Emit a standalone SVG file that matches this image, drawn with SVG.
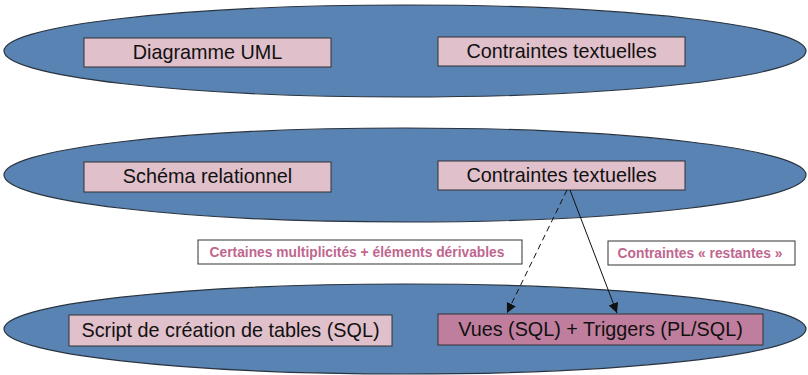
<svg xmlns="http://www.w3.org/2000/svg" width="808" height="375" viewBox="0 0 808 375">
<defs>
<style>
.ell{fill:#5983b2;stroke:#2a3440;stroke-width:1.2}
.box{fill:#e0c0cb;stroke:#333;stroke-width:1}
.dark{fill:#c07e9e;stroke:#333;stroke-width:1}
.t{font-family:"Liberation Sans",Arial,sans-serif;font-size:19.8px;fill:#111;text-anchor:middle}
.lb{fill:#fff;stroke:#333;stroke-width:1}
.lt{font-family:"Liberation Sans",Arial,sans-serif;font-size:13.8px;font-weight:bold;fill:#c0668f;text-anchor:middle}
.c{stroke:#111;stroke-width:1;fill:none}
</style>
<marker id="ah" viewBox="0 0 10 10" refX="10" refY="5" markerWidth="10" markerHeight="10" markerUnits="userSpaceOnUse" orient="auto">
<path d="M0,0 L10,5 L0,10 z" fill="#111"/>
</marker>
</defs>
<g id="layer1"><ellipse class="ell" cx="405" cy="51" rx="401" ry="46"/></g>
<g id="layer2"><ellipse class="ell" cx="405" cy="175" rx="401" ry="47"/></g>
<g id="layer3"><ellipse class="ell" cx="405" cy="329" rx="401" ry="45"/></g>
<g id="n1"><rect class="box" x="84" y="38" width="247" height="29"/><text class="t" x="207.5" y="59">Diagramme UML</text></g>
<g id="n2"><rect class="box" x="438" y="37" width="247" height="29"/><text class="t" x="561.5" y="58">Contraintes textuelles</text></g>
<g id="n3"><rect class="box" x="84" y="162" width="247" height="30"/><text class="t" x="207.5" y="183">Schéma relationnel</text></g>
<g id="n4"><rect class="box" x="438" y="161" width="247" height="29"/><text class="t" x="561.5" y="182">Contraintes textuelles</text></g>
<g id="n5"><rect class="box" x="69" y="315" width="323" height="31"/><text class="t" x="230.5" y="337">Script de création de tables (SQL)</text></g>
<g id="n6"><rect class="dark" x="438" y="314" width="325" height="31"/><text class="t" x="600.5" y="336">Vues (SQL) + Triggers (PL/SQL)</text></g>
<g id="connectors">
<line class="c" x1="567" y1="190" x2="507" y2="313" stroke-dasharray="6,4" marker-end="url(#ah)"/>
<line class="c" x1="570" y1="190" x2="617" y2="313" marker-end="url(#ah)"/>
</g>
<g id="label1"><rect class="lb" x="198" y="240" width="324" height="24"/><text class="lt" x="357" y="257">Certaines multiplicités + éléments dérivables</text></g>
<g id="label2"><rect class="lb" x="608" y="241" width="187" height="24"/><text class="lt" x="700" y="258">Contraintes « restantes »</text></g>
</svg>
